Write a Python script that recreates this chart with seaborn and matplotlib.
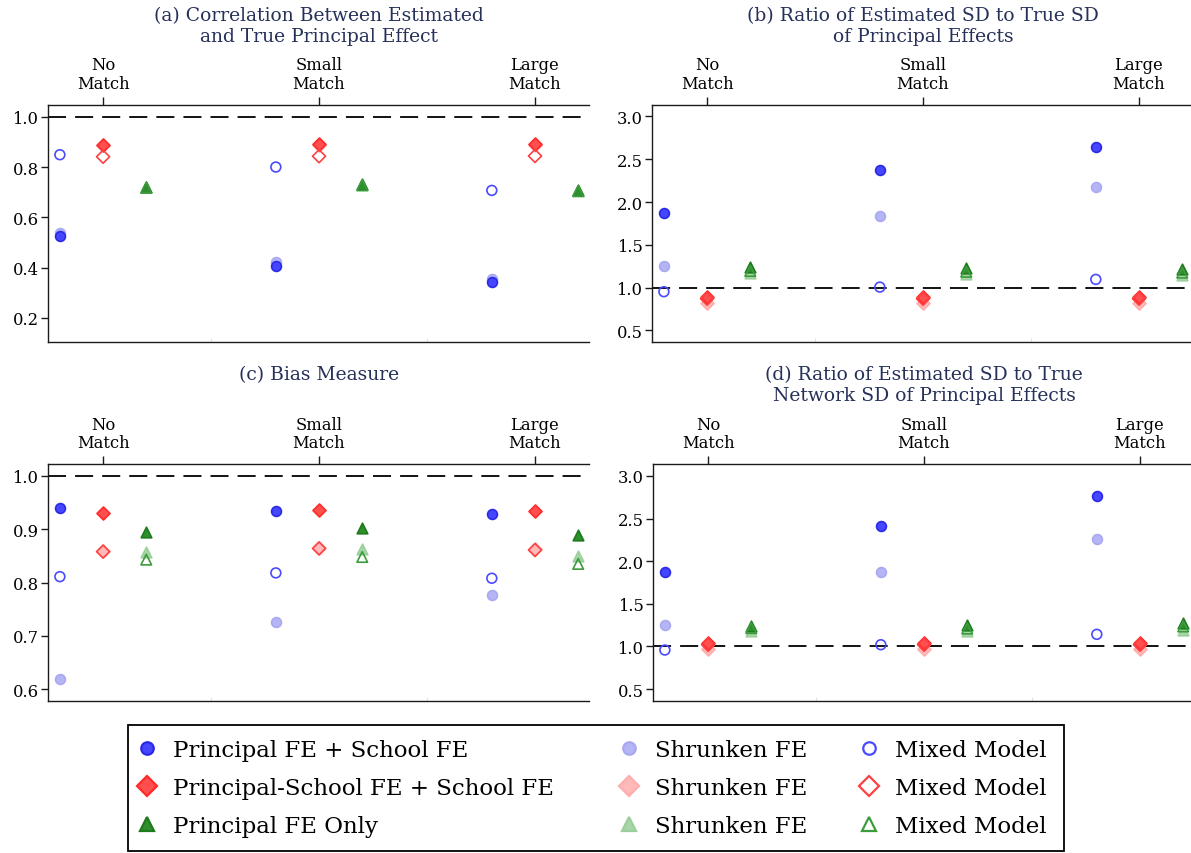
import matplotlib
matplotlib.use("Agg")
import numpy as np
import pandas as pd
import matplotlib.pyplot as plt
from matplotlib.lines import Line2D
from matplotlib.patches import Rectangle
import seaborn as sns

sns.set_theme(style="white")
plt.rcParams["font.family"] = ["DejaVu Serif"]
plt.rcParams["text.color"] = "black"

# ---------------------------------------------------------------- data
categories = ["No\nMatch", "Small\nMatch", "Large\nMatch"]
models = ["Principal FE + School FE", "Principal-School FE + School FE", "Principal FE Only"]
estimators = ["FE", "Shrunken FE", "Mixed Model"]

# (a) correlation between estimated and true principal effect
corr_pfe = {"FE": [0.524, 0.408, 0.343], "Shrunken FE": [0.536, 0.424, 0.355], "Mixed Model": [0.849, 0.800, 0.707]}
corr_psfe = {"FE": [0.888, 0.891, 0.891], "Shrunken FE": [0.886, 0.889, 0.889], "Mixed Model": [0.841, 0.843, 0.844]}
corr_pfo = {"FE": [0.721, 0.731, 0.708], "Shrunken FE": [0.719, 0.729, 0.706], "Mixed Model": [0.718, 0.728, 0.705]}

# (b) ratio of estimated SD to true SD
sd_pfe = {"FE": [1.867, 2.369, 2.646], "Shrunken FE": [1.248, 1.840, 2.170], "Mixed Model": [0.952, 1.006, 1.096]}
sd_psfe = {"FE": [0.885, 0.885, 0.885], "Shrunken FE": [0.823, 0.823, 0.823], "Mixed Model": [0.870, 0.870, 0.870]}
sd_pfo = {"FE": [1.240, 1.228, 1.220], "Shrunken FE": [1.175, 1.162, 1.150], "Mixed Model": [1.195, 1.185, 1.175]}

# (c) bias measure
bias_pfe = {"FE": [0.939, 0.934, 0.929], "Shrunken FE": [0.619, 0.726, 0.777], "Mixed Model": [0.811, 0.818, 0.808]}
bias_psfe = {"FE": [0.930, 0.937, 0.934], "Shrunken FE": [0.859, 0.865, 0.862], "Mixed Model": [0.858, 0.864, 0.861]}
bias_pfo = {"FE": [0.894, 0.902, 0.890], "Shrunken FE": [0.858, 0.863, 0.850], "Mixed Model": [0.843, 0.848, 0.835]}

# (d) ratio of estimated SD to true network SD
nsd_pfe = {"FE": [1.869, 2.413, 2.761], "Shrunken FE": [1.247, 1.869, 2.264], "Mixed Model": [0.958, 1.020, 1.142]}
nsd_psfe = {"FE": [1.044, 1.044, 1.044], "Shrunken FE": [0.970, 0.970, 0.970], "Mixed Model": [1.020, 1.020, 1.020]}
nsd_pfo = {"FE": [1.245, 1.247, 1.275], "Shrunken FE": [1.185, 1.180, 1.196], "Mixed Model": [1.215, 1.210, 1.235]}

titles = [
    "(a) Correlation Between Estimated\nand True Principal Effect",
    "(b) Ratio of Estimated SD to True SD\nof Principal Effects",
    "(c) Bias Measure",
    "(d) Ratio of Estimated SD to True\nNetwork SD of Principal Effects",
]
yticks_a = [0.2, 0.4, 0.6, 0.8, 1.0]
yticks_b = [0.5, 1.0, 1.5, 2.0, 2.5, 3.0]
yticks_c = [0.6, 0.7, 0.8, 0.9, 1.0]
yticks_d = [0.5, 1.0, 1.5, 2.0, 2.5, 3.0]

# ---------------------------------------------------------------- styles
offsets = {models[0]: -0.2, models[1]: 0.0, models[2]: 0.2}
shapes = {models[0]: "o", models[1]: "D", models[2]: "^"}
sizes = {models[0]: 50, models[1]: 44, models[2]: 58}
styles = {
    models[0]: {"FE": ("#4646ff", "#2a2ae8"), "Shrunken FE": ("#b5b5f6", "#a9a9f2"), "Mixed Model": ("none", "#4a4aff")},
    models[1]: {"FE": ("#ff4e4e", "#ff2a2a"), "Shrunken FE": ("#ffb9b9", "#ffadad"), "Mixed Model": ("none", "#ff4040")},
    models[2]: {"FE": ("#2f8f2f", "#1d7a1d"), "Shrunken FE": ("#a8d6a8", "#9ccf9c"), "Mixed Model": ("none", "#3c9c3c")},
}
draw_order = ["Shrunken FE", "FE", "Mixed Model"]
title_color = "#26315a"
spine_color = "#1a1a1a"

W, H = 1191, 854
fig = plt.figure(figsize=(W / 100, H / 100), dpi=100)


def px_axes(left, top, right, bottom):
    return fig.add_axes([left / W, 1 - bottom / H, (right - left) / W, (bottom - top) / H])


def long_frame(pfe, psfe, pfo):
    rows = []
    for model, table in zip(models, [pfe, psfe, pfo]):
        for est in estimators:
            for i, v in enumerate(table[est]):
                rows.append({"x": i + offsets[model], "value": v, "model": model, "estimator": est})
    return pd.DataFrame(rows)


def panel(ax, df, ylim, yticks, title, title_top):
    for model in models:
        for est in draw_order:
            sub = df[(df.model == model) & (df.estimator == est)]
            face, edge = styles[model][est]
            sns.scatterplot(data=sub, x="x", y="value", ax=ax, marker=shapes[model],
                            s=sizes[model], color=edge, facecolor=face, edgecolor=edge,
                            linewidth=1.2, zorder=3, legend=False)
    ax.axhline(1.0, color="black", lw=1.3, dashes=(10, 5), zorder=2)
    ax.set_xlim(-0.255, 2.25)
    ax.set_ylim(*ylim)
    ax.set_yticks(yticks)
    ax.set_yticklabels([f"{t:.1f}" for t in yticks])
    ax.set_xlabel("")
    ax.set_ylabel("")
    ax.xaxis.set_ticks_position("top")
    ax.xaxis.set_label_position("top")
    ax.set_xticks(range(len(categories)))
    ax.set_xticklabels(categories, linespacing=1.15)
    ax.tick_params(axis="x", which="major", direction="out", length=6, width=1.0,
                   color=spine_color, labelsize=11.8, pad=3, top=True, bottom=False,
                   labeltop=True, labelbottom=False, labelcolor="black")
    ax.tick_params(axis="y", direction="out", length=4.8, width=1.0, color=spine_color,
                   labelsize=11.8, pad=2, left=True, labelcolor="black")
    for side in ["left", "top", "bottom"]:
        ax.spines[side].set_visible(True)
        ax.spines[side].set_color(spine_color)
        ax.spines[side].set_linewidth(1.0)
    ax.spines["right"].set_visible(False)
    ax.grid(False)
    sec = ax.secondary_xaxis("bottom")
    sec.set_xticks([0.5, 1.5])
    sec.set_xticklabels([])
    sec.tick_params(direction="in", length=3, width=0.8, color="#e4e4e4")
    sec.spines["bottom"].set_visible(False)
    # panel title centred over the middle category
    xc = ax.transData.transform((1.0, 0))[0] / W
    fig.text(xc, 1 - title_top / H, title, ha="center", va="top",
             fontsize=13.5, color=title_color, linespacing=1.2)


ax_a = px_axes(48, 105.7, 589, 342.7)
ax_b = px_axes(652, 105.7, 1193, 342.7)
ax_c = px_axes(48, 465, 589, 702)
ax_d = px_axes(653, 465, 1194, 702)

panel(ax_a, long_frame(corr_pfe, corr_psfe, corr_pfo), (0.105, 1.048), yticks_a, titles[0], 7)
panel(ax_b, long_frame(sd_pfe, sd_psfe, sd_pfo), (0.368, 3.137), yticks_b, titles[1], 7)
panel(ax_c, long_frame(bias_pfe, bias_psfe, bias_pfo), (0.5775, 1.0225), yticks_c, titles[2], 366.5)
panel(ax_d, long_frame(nsd_pfe, nsd_psfe, nsd_pfo), (0.36, 3.14), yticks_d, titles[3], 366.5)

# ---------------------------------------------------------------- legend
legend_sizes = {models[0]: 9, models[1]: 10.5, models[2]: 10}
column_x = [138, 620, 860]          # left edge of each legend column (px)
for col, est in enumerate(estimators):
    handles, labels = [], []
    for model in models:
        face, edge = styles[model][est]
        handles.append(Line2D([], [], linestyle="none", marker=shapes[model],
                              markersize=legend_sizes[model], markerfacecolor=face,
                              markeredgecolor=edge, markeredgewidth=1.6))
        labels.append(model if est == "FE" else est)
    leg = fig.legend(handles, labels, ncol=1, loc="upper left",
                     bbox_to_anchor=(column_x[col] / W, 1 - 740 / H),
                     bbox_transform=fig.transFigure, frameon=False, fontsize=16.5,
                     handlelength=0.8, handletextpad=0.72, labelspacing=0.7,
                     borderpad=0, borderaxespad=0)
    for t in leg.get_texts():
        t.set_color("black")

fig.patches.append(Rectangle((128 / W, 1 - 852 / H), (1064 - 128) / W, (852 - 726) / H,
                             transform=fig.transFigure, fill=False, edgecolor="black",
                             linewidth=1.3, zorder=5))

fig.savefig("out.png", dpi=100)
